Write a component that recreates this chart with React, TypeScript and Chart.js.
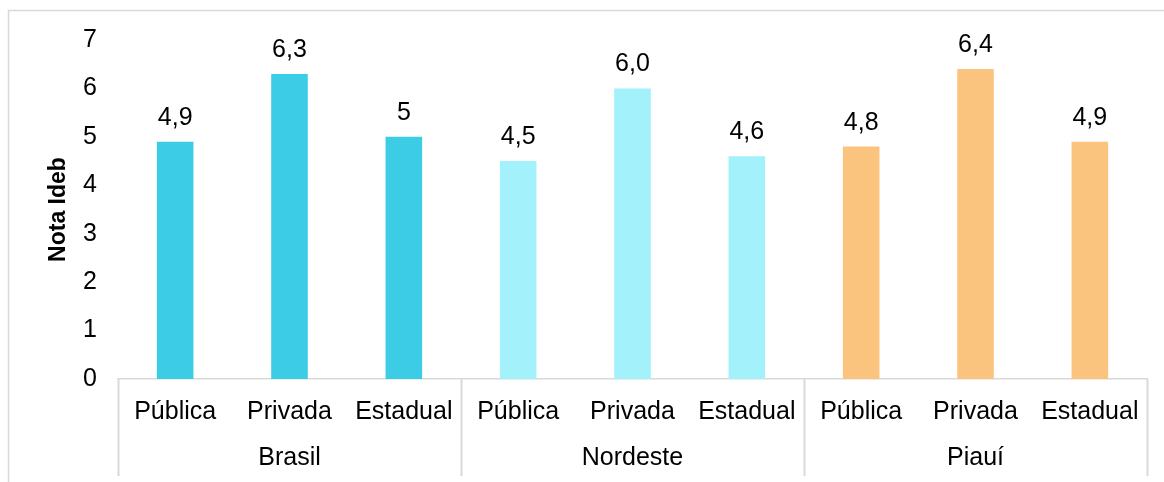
import React, { useEffect, useRef } from "react";
import { Chart, registerables } from "chart.js";

Chart.register(...registerables);

const categories = ["Pública", "Privada", "Estadual", "Pública", "Privada", "Estadual", "Pública", "Privada", "Estadual"];
const groups = ["Brasil", "Nordeste", "Piauí"];
const groupSize = 3;
const values = [4.9, 6.3, 5, 4.5, 6.0, 4.6, 4.8, 6.4, 4.9];
const valueLabels = ["4,9", "6,3", "5", "4,5", "6,0", "4,6", "4,8", "6,4", "4,9"];
const groupColors = ["#3DCCE6", "#A2F1FB", "#FBC47E"];
const yAxisTitle = "Nota Ideb";

const FONT = "'Liberation Sans', Arial, sans-serif";
const FS = 25;

const overlayPlugin = {
  id: "overlay",
  afterDraw(chart: any) {
    const ctx = chart.ctx;
    const x = chart.scales.x;
    const area = chart.chartArea;
    ctx.save();
    // outer frame
    ctx.strokeStyle = "#d9d9d9";
    ctx.lineWidth = 1.5;
    ctx.beginPath();
    ctx.moveTo(8.5, chart.height);
    ctx.lineTo(8.5, 10.5);
    ctx.lineTo(chart.width, 10.5);
    ctx.stroke();

    // group separators
    const bounds: number[] = [area.left];
    for (let g = 1; g < groups.length; g++) {
      const i = g * groupSize;
      bounds.push((x.getPixelForValue(i - 1) + x.getPixelForValue(i)) / 2);
    }
    bounds.push(area.right);
    ctx.lineWidth = 2;
    bounds.forEach((b) => {
      ctx.beginPath();
      ctx.moveTo(Math.round(b) + 0.5, area.bottom);
      ctx.lineTo(Math.round(b) + 0.5, chart.height - 6);
      ctx.stroke();
    });

    // group labels
    ctx.fillStyle = "#000";
    ctx.font = `${FS}px ${FONT}`;
    ctx.textAlign = "center";
    ctx.textBaseline = "middle";
    groups.forEach((g, gi) => {
      ctx.fillText(g, (bounds[gi] + bounds[gi + 1]) / 2, area.bottom + 79);
    });

    // value labels
    const meta = chart.getDatasetMeta(0);
    ctx.textBaseline = "alphabetic";
    meta.data.forEach((bar: any, i: number) => {
      ctx.fillText(valueLabels[i], bar.x, bar.y - 17);
    });
    ctx.restore();
  },
};

export default function App() {
  const ref = useRef<HTMLCanvasElement>(null);
  useEffect(() => {
    if (!ref.current) return;
    const chart = new Chart(ref.current, {
      type: "bar",
      data: {
        labels: categories,
        datasets: [
          {
            data: values,
            backgroundColor: values.map((_, i) => groupColors[Math.floor(i / groupSize)]),
            barPercentage: 0.32,
            categoryPercentage: 1,
          },
        ],
      },
      options: {
        animation: false,
        responsive: true,
        maintainAspectRatio: false,
        layout: { padding: { top: 40, right: 17, left: 0, bottom: 0 } },
        plugins: { legend: { display: false }, tooltip: { enabled: false } },
        scales: {
          x: {
            grid: { display: false },
            border: { display: true, color: "#d9d9d9", width: 1.5 },
            ticks: { color: "#000", font: { size: FS, family: FONT }, padding: 10, maxRotation: 0, autoSkip: false },
            afterFit(scale: any) {
              scale.height = 103;
            },
          },
          y: {
            min: 0,
            max: 7,
            grid: { display: false },
            border: { display: false },
            ticks: { stepSize: 1, color: "#000", font: { size: FS, family: FONT }, padding: 13 },
            title: {
              display: true,
              text: yAxisTitle,
              color: "#000",
              font: { size: 23, weight: "bold", family: FONT },
              padding: { top: 45, bottom: 0 },
            },
            afterFit(scale: any) {
              scale.width = 118;
            },
          },
        },
      },
      plugins: [overlayPlugin],
    });
    return () => chart.destroy();
  }, []);
  return (
    <div style={{ position: "fixed", left: 0, top: 0, width: 1164, height: 482, background: "#fff" }}>
      <canvas ref={ref} />
    </div>
  );
}
